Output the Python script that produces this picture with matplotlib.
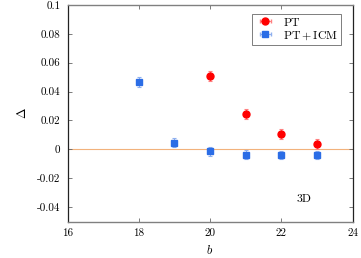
import numpy as np
import matplotlib
matplotlib.use("Agg")
import matplotlib.pyplot as plt

plt.rcParams['font.family'] = ['cmr10', 'DejaVu Serif']
plt.rcParams['mathtext.fontset'] = 'cm'
plt.rcParams['axes.unicode_minus'] = False
plt.rcParams['axes.formatter.use_mathtext'] = False

# data
b_pt = [20, 21, 22, 23]
d_pt = [0.0507, 0.0243, 0.0105, 0.0038]
e_pt = [0.0035, 0.0033, 0.0033, 0.0036]

b_icm = [18, 19, 20, 21, 22, 23]
d_icm = [0.0465, 0.0047, -0.0015, -0.0036, -0.0038, -0.0038]
e_icm = [0.0033, 0.0033, 0.0033, 0.0030, 0.0028, 0.0028]

x_ticks = [16, 18, 20, 22, 24]
y_ticks = [-0.04, -0.02, 0, 0.02, 0.04, 0.06, 0.08, 0.1]
y_labels = ['-0.04', '-0.02', '0', '0.02', '0.04', '0.06', '0.08', '0.1']

red = '#ff0000'
blue = '#2b6de6'

fig = plt.figure(figsize=(3.61, 2.58), dpi=100)
ax = fig.add_axes([67.5 / 361, (258 - 221.5) / 258, (352.5 - 67.5) / 361, (221.5 - 5) / 258])

ax.axhline(0, color='#f2b27c', lw=0.8, zorder=1)

ax.errorbar(b_pt, d_pt, yerr=e_pt, fmt='o', color=red, ms=5,
            ecolor='#ff8080', elinewidth=0.8, capsize=1.6, capthick=0.8, zorder=3)
ax.errorbar(b_icm, d_icm, yerr=e_icm, fmt='s', color=blue, ms=4.6,
            ecolor='#8fb0ef', elinewidth=0.8, capsize=1.6, capthick=0.8, zorder=3)

# legend proxies with horizontal bars
ax.errorbar([np.nan], [np.nan], xerr=[1], fmt='o', color=red, ms=5,
            ecolor='#ff8080', elinewidth=0.8, capsize=1.6, label='PT')
ax.errorbar([np.nan], [np.nan], xerr=[1], fmt='s', color=blue, ms=4.6,
            ecolor='#8fb0ef', elinewidth=0.8, capsize=1.6,
            label=r'$\mathrm{PT}+\mathrm{ICM}$')

leg = ax.legend(loc='upper right', bbox_to_anchor=(0.96, 0.957), fontsize=8.5,
                frameon=True, fancybox=False, edgecolor='#444444',
                handlelength=1.8, borderpad=0.25, labelspacing=0.15,
                handletextpad=0.6, borderaxespad=0.0)
leg.get_frame().set_linewidth(0.6)

ax.text(22.65, -0.0347, '3D', fontsize=8.5, ha='center', va='center')

ax.set_xlim(16, 24)
ax.set_ylim(-0.05, 0.1)
ax.set_xticks(x_ticks)
ax.set_yticks(y_ticks)
ax.set_yticklabels(y_labels)
ax.tick_params(direction='in', length=3, width=0.6, color='#666666',
               top=True, right=True, labelsize=8, pad=5)

ax.set_xlabel(r'$b$', fontsize=9, labelpad=4)
ax.set_ylabel(r'$\Delta$', fontsize=9, labelpad=6)

for s in ['top', 'bottom']:
    ax.spines[s].set_color('#808080')
    ax.spines[s].set_linewidth(1.0)
for s in ['left', 'right']:
    ax.spines[s].set_color('#222222')
    ax.spines[s].set_linewidth(0.9)

fig.savefig('out.png', dpi=100)
